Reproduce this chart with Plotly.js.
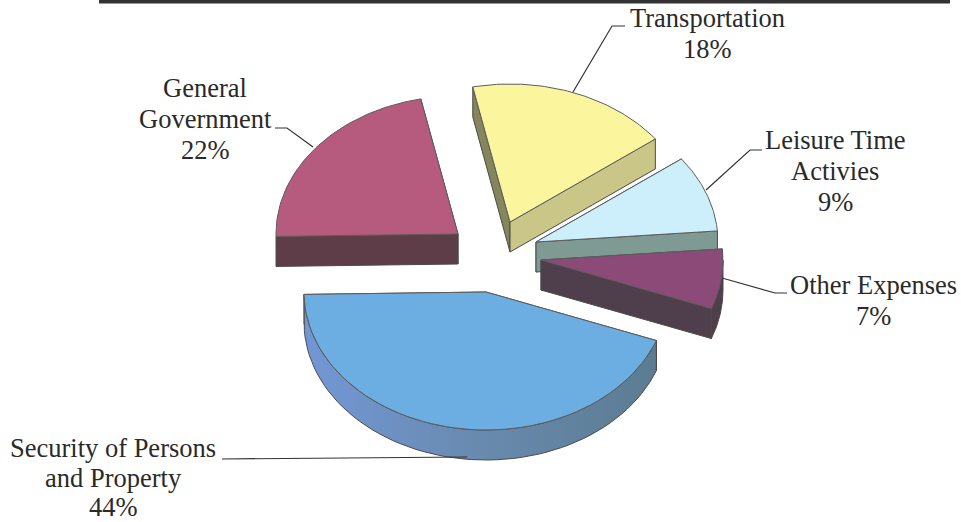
<!DOCTYPE html>
<html>
<head>
<meta charset="utf-8">
<script src="https://cdn.plot.ly/plotly-3.0.1.min.js"></script>
<style>html,body{margin:0;padding:0;background:#fff}#chart{width:961px;height:522px}</style>
</head>
<body>
<div id="chart"></div>
<script>
// Data
var categories = ["General<br>Government", "Transportation", "Leisure Time<br>Activies", "Other Expenses", "Security of Persons<br>and Property"];
var values = [22, 18, 9, 7, 44];

// Styling and layout of the exploded 3D pie
var topColors = ["#B65A7E", "#FBF69E", "#CDEFFB", "#8C4A78", "#6DAEE2"];
var startFaceColors = ["#5F3D48", "#85855E", "#7F9A92", "#4A3A48", "#5F7F98"];
var endFaceColors = ["#5F3D48", "#C9C688", "#7F9A92", "#4F3F4C", "#5F7F98"];
var rimColors = ["#5F3D48", "#C9C688", "#7F9A92", "#4F3F4C", "#6A8CB0"];
var apexX = [458, 510, 536, 541, 486];
var apexY = [234, 222, 242, 260, 292];
var radiusX = 182, radiusY = 138, depth = 30, startAngle = 181;
var labelX = [205, 707, 835, 873, 113];
var labelTopY = [88, 18, 140, 285, 448];
var lineGap = [31, 31, 31, 31, 29.5];
var leaderX = [[275, 287, 313], [573, 612, 625], [706, 750, 762], [722, 775, 787], [222, 467]];
var leaderY = [[128, 128, 147], [92, 26, 26], [190, 150, 150], [278, 293, 293], [459, 457]];

var traces = [];
function rad(d) { return d * Math.PI / 180; }
function px(i, t) { return apexX[i] + radiusX * Math.cos(rad(t)); }
function py(i, t) { return apexY[i] - radiusY * Math.sin(rad(t)); }
function poly(xs, ys, color, line, extra) {
  var tr = {
    type: "scatter", mode: "lines", x: xs.concat([xs[0]]), y: ys.concat([ys[0]]),
    fill: "toself", fillcolor: color, hoverinfo: "skip",
    line: { color: line, width: 1 }
  };
  if (extra) { tr.fillgradient = extra; }
  traces.push(tr);
}

var total = values.reduce(function (a, b) { return a + b; }, 0);
var angle = startAngle;
values.forEach(function (v, i) {
  var a0 = angle, a1 = angle - v / total * 360;
  angle = a1;
  var arcX = [], arcY = [], rimTopX = [], rimTopY = [];
  var steps = 60;
  for (var s = 0; s <= steps; s++) {
    var t = a0 + (a1 - a0) * s / steps;
    arcX.push(px(i, t)); arcY.push(py(i, t));
    var m = ((t % 360) + 360) % 360;
    if (m >= 180 || m === 0) { rimTopX.push(px(i, t)); rimTopY.push(py(i, t)); }
  }
  var edge = "#4a4a4a";
  // radial side faces
  poly([apexX[i], px(i, a0), px(i, a0), apexX[i]],
       [apexY[i], py(i, a0), py(i, a0) + depth, apexY[i] + depth], startFaceColors[i], edge);
  poly([apexX[i], px(i, a1), px(i, a1), apexX[i]],
       [apexY[i], py(i, a1), py(i, a1) + depth, apexY[i] + depth], endFaceColors[i], edge);
  // curved rim
  if (rimTopX.length > 1) {
    var rx = rimTopX.concat(rimTopX.slice().reverse());
    var ry = rimTopY.concat(rimTopY.slice().reverse().map(function (y) { return y + depth; }));
    var grad = i === 4 ? { type: "horizontal", colorscale: [[0, "#7397D6"], [0.5, "#688AAE"], [1, "#5C7C92"]] } : null;
    poly(rx, ry, rimColors[i], edge, grad);
  }
  // top surface
  poly([apexX[i]].concat(arcX), [apexY[i]].concat(arcY), topColors[i], "#5c5c5c");
});

// leader lines
leaderX.forEach(function (xs, i) {
  traces.push({ type: "scatter", mode: "lines", x: xs, y: leaderY[i], hoverinfo: "skip",
    line: { color: "#333333", width: 1.2 } });
});

// one annotation per text line, so the line spacing follows the reference
var annotations = [];
categories.forEach(function (c, i) {
  c.split("<br>").concat([values[i] + "%"]).forEach(function (line, k) {
    annotations.push({
      xref: "x", yref: "y", x: labelX[i], y: labelTopY[i] + k * lineGap[i],
      xanchor: "center", yanchor: "middle", text: line, showarrow: false, align: "center",
      font: { family: "Liberation Serif, serif", size: 26.5, color: "#2a2a2a" }
    });
  });
});

var layout = {
  width: 961, height: 522, margin: { l: 0, r: 0, t: 0, b: 0 },
  paper_bgcolor: "#ffffff", plot_bgcolor: "#ffffff", showlegend: false,
  xaxis: { range: [0, 961], visible: false, fixedrange: true },
  yaxis: { range: [522, 0], visible: false, fixedrange: true },
  annotations: annotations,
  shapes: [{ type: "rect", xref: "x", yref: "y", x0: 99, x1: 950, y0: 0, y1: 3.5,
    fillcolor: "#333333", line: { width: 0 } }]
};
Plotly.newPlot("chart", traces, layout, { displayModeBar: false, staticPlot: true });
</script>
</body>
</html>
